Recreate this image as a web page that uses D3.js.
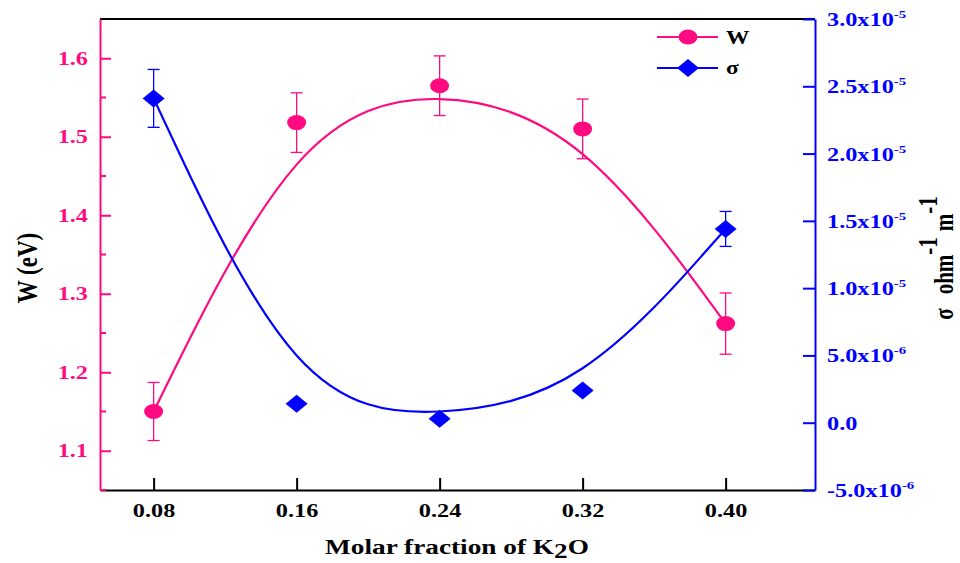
<!DOCTYPE html>
<html>
<head>
<meta charset="utf-8">
<script src="https://cdn.jsdelivr.net/npm/d3@7"></script>
<style>
  body { margin: 0; background: #fff; }
  text { font-family: "Liberation Serif", "Times New Roman", serif; font-weight: bold; }
</style>
</head>
<body>
<div id="chart"></div>
<script>
// Data
const fractions = [0.08, 0.16, 0.24, 0.32, 0.40]
const wValues = [1.15, 1.518, 1.565, 1.51, 1.262]
const wErrors = [0.037, 0.038, 0.038, 0.038, 0.039]
const sigmaValues = [2.41e-5, 1.4e-6, 0.3e-6, 2.4e-6, 1.44e-5]
const sigmaErrors = [2.15e-6, null, null, null, 1.3e-6]

const xTicks = [0.08, 0.16, 0.24, 0.32, 0.40]
const wTicks = [1.1, 1.2, 1.3, 1.4, 1.5, 1.6]
const wMinorTicks = [1.05, 1.15, 1.25, 1.35, 1.45, 1.55]
const sigmaTicks = [-5e-6, 0, 5e-6, 1e-5, 1.5e-5, 2e-5, 2.5e-5, 3e-5]

const pink = "#ff0a80"
const blue = "#0000ff"
// the original picture is stretched sideways, so the text is too
const stretch = 1.35

const svgWidth = 960
const svgHeight = 563
const margin = { top: 19, right: 145, bottom: 73, left: 100 }
const width = svgWidth - margin.left - margin.right
const height = svgHeight - margin.top - margin.bottom

const svg = d3.select("#chart").append("svg")
  .attr("width", svgWidth)
  .attr("height", svgHeight)

const g = svg.append("g")
  .attr("transform", `translate(${margin.left}, ${margin.top})`)

const x = d3.scaleLinear().domain([0.05, 0.45]).range([0, width])
const yW = d3.scaleLinear().domain([1.05, 1.65]).range([height, 0])
const yS = d3.scaleLinear().domain([-5e-6, 3e-5]).range([height, 0])

// frame top line
g.append("line").attr("x1", 0).attr("x2", width).attr("y1", 0).attr("y2", 0)
  .attr("stroke", "#000").attr("stroke-width", 2)

// bottom axis, ticks pointing inward
const xAxis = g.append("g")
  .attr("transform", `translate(0, ${height})`)
  .call(d3.axisBottom(x).tickValues(xTicks).tickSizeInner(-12).tickSizeOuter(0).tickFormat(d3.format(".2f")))
xAxis.select(".domain").attr("stroke", "#000").attr("stroke-width", 2)
xAxis.selectAll(".tick line").attr("stroke", "#000").attr("stroke-width", 2)
xAxis.selectAll(".tick text").attr("y", null).attr("dy", null)
  .attr("transform", `translate(0, 27) scale(${stretch}, 1)`)
  .attr("fill", "#000").style("font-size", "18px")

// left axis (W)
const leftAxis = g.append("g")
  .call(d3.axisLeft(yW).tickValues(wTicks).tickSizeInner(-11).tickSizeOuter(0).tickFormat(d3.format(".1f")))
leftAxis.select(".domain").attr("stroke", pink).attr("stroke-width", 2)
leftAxis.selectAll(".tick line").attr("stroke", pink).attr("stroke-width", 2)
leftAxis.selectAll(".tick text").attr("x", null)
  .attr("transform", `translate(-12, 0) scale(${stretch}, 1)`)
  .attr("fill", pink).style("font-size", "18px")
leftAxis.selectAll(".minor").data(wMinorTicks).enter().append("line")
  .attr("x1", 0).attr("x2", 6)
  .attr("y1", d => yW(d)).attr("y2", d => yW(d))
  .attr("stroke", pink).attr("stroke-width", 2)

// right axis (sigma)
const rightAxis = g.append("g")
  .attr("transform", `translate(${width}, 0)`)
  .call(d3.axisRight(yS).tickValues(sigmaTicks).tickSizeInner(-12).tickSizeOuter(0).tickFormat(""))
rightAxis.select(".domain").attr("stroke", blue).attr("stroke-width", 2)
rightAxis.selectAll(".tick line").attr("stroke", blue).attr("stroke-width", 2)
rightAxis.selectAll(".tick").each(function(d) {
  const t = d3.select(this).append("text")
    .attr("transform", `translate(12, 0) scale(${stretch}, 1)`)
    .attr("dy", "0.36em").attr("text-anchor", "start")
    .attr("fill", blue).style("font-size", "18px")
  if (d === 0) {
    t.text("0.0")
  } else {
    const exp = Math.floor(Math.log10(Math.abs(d)))
    const mant = d / Math.pow(10, exp)
    t.append("tspan").text(mant.toFixed(1) + "x10")
    t.append("tspan").attr("dy", -8).style("font-size", "11px").text(String(exp))
  }
})

// error bars
function errorBars(vals, errs, yScale, color) {
  const eb = g.append("g").attr("stroke", color).attr("stroke-width", 1.3)
  fractions.forEach((f, i) => {
    if (errs[i] == null) return
    const cx = x(f)
    const y1 = yScale(vals[i] - errs[i])
    const y2 = yScale(vals[i] + errs[i])
    eb.append("line").attr("x1", cx).attr("x2", cx).attr("y1", y1).attr("y2", y2)
    eb.append("line").attr("x1", cx - 6).attr("x2", cx + 6).attr("y1", y1).attr("y2", y1)
    eb.append("line").attr("x1", cx - 6).attr("x2", cx + 6).attr("y1", y2).attr("y2", y2)
  })
}
errorBars(wValues, wErrors, yW, pink)
errorBars(sigmaValues, sigmaErrors, yS, blue)

// B-spline curves with the points as control points
const wLine = d3.line().x((d, i) => x(fractions[i])).y(d => yW(d)).curve(d3.curveBasis)
const sLine = d3.line().x((d, i) => x(fractions[i])).y(d => yS(d)).curve(d3.curveBasis)

g.append("path").datum(wValues).attr("d", wLine)
  .attr("fill", "none").attr("stroke", pink).attr("stroke-width", 2.2)
g.append("path").datum(sigmaValues).attr("d", sLine)
  .attr("fill", "none").attr("stroke", blue).attr("stroke-width", 2.2)

// markers
const diamond = "M0,-9L11,0L0,9L-11,0Z"
g.selectAll(".wdot").data(wValues).enter().append("ellipse")
  .attr("cx", (d, i) => x(fractions[i])).attr("cy", d => yW(d))
  .attr("rx", 9.5).attr("ry", 7.5).attr("fill", pink)
g.selectAll(".sdot").data(sigmaValues).enter().append("path")
  .attr("d", diamond)
  .attr("transform", (d, i) => `translate(${x(fractions[i])}, ${yS(d)})`)
  .attr("fill", blue)

// legend
const legend = svg.append("g").attr("transform", "translate(657, 37)")
legend.append("line").attr("x1", 0).attr("x2", 61).attr("y1", 0).attr("y2", 0)
  .attr("stroke", pink).attr("stroke-width", 2.2)
legend.append("ellipse").attr("cx", 31).attr("cy", 0).attr("rx", 9.5).attr("ry", 7.5).attr("fill", pink)
legend.append("text").attr("transform", `translate(69, 7) scale(1.3, 1)`)
  .style("font-size", "18px").attr("fill", "#000").text("W")
legend.append("line").attr("x1", 0).attr("x2", 61).attr("y1", 31).attr("y2", 31)
  .attr("stroke", blue).attr("stroke-width", 2.2)
legend.append("path").attr("d", diamond).attr("transform", "translate(31, 31)").attr("fill", blue)
legend.append("text").attr("transform", `translate(69, 37) scale(1.3, 1)`)
  .style("font-size", "18px").attr("fill", "#000").text("σ")

// axis titles
svg.append("text")
  .attr("transform", "translate(37, 268) rotate(-90) scale(1, 1.3)")
  .attr("text-anchor", "middle").style("font-size", "23px").attr("fill", "#000")
  .text("W (eV)")

const xt = svg.append("text")
  .attr("transform", "translate(457, 554) scale(1.24, 1)")
  .attr("text-anchor", "middle").style("font-size", "22px").attr("fill", "#000")
xt.append("tspan").text("Molar fraction of K")
xt.append("tspan").attr("dy", "0.2em").text("2")
xt.append("tspan").attr("dy", "-0.2em").text("O")

const yt = svg.append("text")
  .attr("transform", "translate(953, 258) rotate(-90) scale(1, 1.3)")
  .attr("text-anchor", "middle").style("font-size", "21px").attr("fill", "#000")
yt.append("tspan").text("σ")
yt.append("tspan").attr("dx", 14).text("ohm")
yt.append("tspan").attr("dy", "-0.6em").text("-1")
yt.append("tspan").attr("dy", "0.6em").attr("dx", 6).text("m")
yt.append("tspan").attr("dy", "-0.6em").text("-1")
</script>
</body>
</html>
